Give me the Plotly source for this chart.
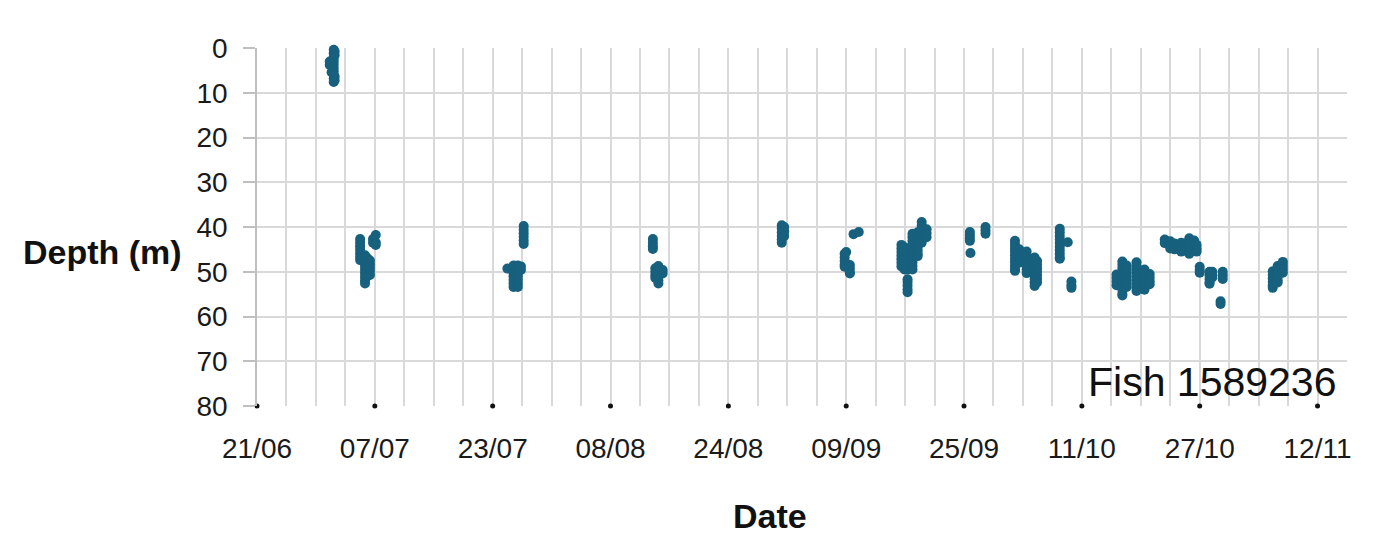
import plotly.graph_objects as go

# ---- data (one column of depth records per timestamp) ----
col_times = [
    "2014-06-30 21:00", "2014-07-01 03:00", "2014-07-01 10:00", "2014-07-01 13:00",
    "2014-07-05 00:00", "2014-07-05 16:00", "2014-07-06 00:00", "2014-07-06 08:00",
    "2014-07-06 18:00", "2014-07-07 03:00",
    "2014-07-25 00:00", "2014-07-25 20:00", "2014-07-26 10:00", "2014-07-26 20:00",
    "2014-07-27 05:00",
    "2014-08-13 18:00", "2014-08-14 02:00", "2014-08-14 12:00", "2014-08-15 02:00",
    "2014-08-31 06:00", "2014-08-31 14:00",
    "2014-09-08 19:00", "2014-09-09 00:00", "2014-09-09 12:00", "2014-09-10 00:00",
    "2014-09-10 17:00",
    "2014-09-16 12:00", "2014-09-16 22:00", "2014-09-17 08:00", "2014-09-18 00:00",
    "2014-09-18 17:00", "2014-09-19 06:00", "2014-09-19 22:00",
    "2014-09-25 19:00", "2014-09-25 21:00", "2014-09-27 22:00",
    "2014-10-01 22:00", "2014-10-02 12:00", "2014-10-03 12:00", "2014-10-04 14:00",
    "2014-10-04 22:00",
    "2014-10-08 00:00", "2014-10-09 02:00", "2014-10-09 14:00",
    "2014-10-15 17:00", "2014-10-16 12:00", "2014-10-17 02:00", "2014-10-18 10:00",
    "2014-10-19 12:00", "2014-10-20 05:00",
    "2014-10-22 06:00", "2014-10-23 00:00", "2014-10-23 14:00", "2014-10-24 12:00",
    "2014-10-25 14:00", "2014-10-26 06:00", "2014-10-26 14:00",
    "2014-10-27 00:00", "2014-10-28 08:00", "2014-10-28 17:00", "2014-10-29 20:00",
    "2014-10-30 03:00",
    "2014-11-05 22:00", "2014-11-06 14:00", "2014-11-07 07:00",
]
col_depths = [
    [3.0, 3.8], [5.4], [0.4, 1.2, 2.0, 2.8, 3.6, 4.4, 5.2, 6.0, 6.8, 7.6], [0.8, 1.6, 6.4, 7.2],
    [42.7, 43.5, 44.3, 45.1, 45.9, 46.7, 47.4], [46.3, 47.1, 47.9, 48.7, 49.5, 50.3, 51.1, 51.9, 52.6],
    [47.0, 47.8, 48.6, 49.4, 50.2, 51.0], [47.5, 48.3, 49.1, 49.9, 50.7],
    [42.7, 43.5], [41.8, 43.5, 44.0],
    [49.3], [48.6, 49.4, 50.2, 51.0, 51.8, 52.6, 53.4], [48.6, 49.4, 50.2, 51.0, 51.8, 52.6, 53.4],
    [48.8, 49.6],
    [39.8, 40.6, 41.4, 42.2, 43.0, 43.8],
    [42.7, 43.5, 44.3, 44.9], [49.2, 50.0, 50.8, 51.4], [48.7, 49.5, 50.3, 51.1, 51.9, 52.6], [49.6, 50.4],
    [39.6, 40.4, 41.2, 42.0, 42.8, 43.5], [40.0, 41.0, 42.0],
    [46.0, 46.8, 47.6, 48.4, 48.9], [45.6], [48.5, 49.3, 50.1, 50.4], [41.6],
    [41.1],
    [44.0, 44.8, 45.6, 46.4, 47.2, 48.0, 48.8], [44.5, 45.5, 46.5, 47.5, 48.5, 49.5],
    [49.5, 51.7, 52.3, 53.1, 53.9, 54.6],
    [41.5, 42.3, 43.1, 43.9, 44.7, 45.5, 46.3, 47.1, 47.9, 48.7, 49.5],
    [41.2, 42.0, 42.8, 43.6, 44.4, 45.2, 46.0, 46.5], [38.9, 39.7, 40.5, 41.3, 42.1, 42.9, 43.5],
    [40.5, 41.4, 42.3],
    [41.1, 41.8, 42.5, 43.1], [45.8], [40.0, 40.8, 41.5],
    [43.1, 43.9, 44.7, 45.5, 46.3, 47.1, 47.9, 48.7, 49.5, 49.8], [45.0, 46.0, 47.0, 48.0],
    [45.5, 46.3, 47.1, 47.9, 48.7, 49.5, 50.3], [46.8, 47.6, 48.4, 49.2, 50.0, 50.8, 51.6, 52.4, 53.2],
    [47.6, 48.4, 49.2, 50.0, 50.8, 51.6, 52.4],
    [40.4, 41.2, 42.0, 42.8, 43.6, 44.4, 45.2, 46.0, 46.8, 47.1], [43.4], [52.2, 53.0, 53.6],
    [50.6, 51.4, 52.2, 53.0], [47.7, 48.5, 49.3, 50.1, 50.9, 51.7, 52.5, 53.3, 54.1, 54.9, 55.3],
    [48.6, 49.4, 50.2, 51.0, 51.8, 52.6, 53.4], [47.9, 48.7, 49.5, 50.3, 51.1, 51.9, 52.7, 53.5, 54.3],
    [49.5, 50.3, 51.1, 51.9, 52.7, 53.5, 54.0], [50.5, 51.3, 52.1, 52.8],
    [42.8, 43.6], [43.2, 44.0, 44.8], [43.7, 44.5, 45.0], [43.5, 44.3, 45.1, 45.5],
    [42.5, 43.3, 44.1, 44.9, 45.7, 46.0], [43.0, 44.0, 45.0], [44.0, 44.8, 45.5],
    [48.9, 49.6, 50.2], [50.0, 50.8, 51.6, 52.4, 52.7], [50.0, 50.8, 51.3], [56.6, 57.2],
    [50.0, 50.8, 51.6],
    [49.9, 50.7, 51.5, 52.3, 53.1, 53.6], [48.7, 49.5, 50.3, 51.1, 51.9, 52.4], [47.8, 48.6, 49.4, 50.2],
]

x_tick_dates = ["2014-06-21", "2014-07-07", "2014-07-23", "2014-08-08", "2014-08-24",
                "2014-09-09", "2014-09-25", "2014-10-11", "2014-10-27", "2014-11-12"]
x_tick_labels = ["21/06", "07/07", "23/07", "08/08", "24/08",
                 "09/09", "25/09", "11/10", "27/10", "12/11"]
x_minor_dates = ["2014-06-25", "2014-06-29", "2014-07-03", "2014-07-11", "2014-07-15",
                 "2014-07-19", "2014-07-27", "2014-07-31", "2014-08-04", "2014-08-12",
                 "2014-08-16", "2014-08-20", "2014-08-28", "2014-09-01", "2014-09-05",
                 "2014-09-13", "2014-09-17", "2014-09-21", "2014-09-29", "2014-10-03",
                 "2014-10-07", "2014-10-15", "2014-10-19", "2014-10-23", "2014-10-31",
                 "2014-11-04", "2014-11-08", "2014-11-16"]
y_ticks = [0, 10, 20, 30, 40, 50, 60, 70, 80]
x_range = ["2014-06-21", "2014-11-16"]
fish_label = "Fish 1589236"

# ---- expand columns into points ----
xs, ys = [], []
for t, ds in zip(col_times, col_depths):
    for d in ds:
        xs.append(t)
        ys.append(d)

FONT = "Liberation Sans, Arial, sans-serif"
W, H = 1374, 546
BODY = 8  # default page margin of the html body
# wanted plot box on screen
PX0, PX1, PY0, PY1 = 257, 1347, 48, 406
L = PX0 - BODY
T = PY0 - BODY
R = BODY + W - PX1
B = H - T - (PY1 - PY0)
pw = PX1 - PX0
ph = PY1 - PY0


def px(sx):
    return (sx - PX0) / pw


def py(sy):
    return (PY1 - sy) / ph


fig = go.Figure()
fig.add_trace(go.Scatter(
    x=xs, y=ys, mode="markers",
    marker=dict(size=10, color="#17607E", line=dict(width=0)),
    cliponaxis=False, showlegend=False, hoverinfo="x+y",
))
fig.add_trace(go.Scatter(
    x=x_tick_dates, y=[y_ticks[-1]] * len(x_tick_dates), mode="markers",
    marker=dict(size=5, color="#111111"), cliponaxis=False,
    showlegend=False, hoverinfo="skip",
))

fig.update_layout(
    width=W, height=H,
    margin=dict(l=L, r=R, t=T, b=B, pad=0, autoexpand=False),
    paper_bgcolor="white", plot_bgcolor="white",
    font=dict(family=FONT, color="#1a1a1a"),
    xaxis=dict(
        type="date", range=x_range, automargin=False,
        tickmode="array", tickvals=x_tick_dates, ticktext=x_tick_labels,
        showgrid=True, gridcolor="#d9d9d9", gridwidth=1.5,
        minor=dict(tickvals=x_minor_dates, showgrid=True, gridcolor="#d9d9d9", gridwidth=1.5),
        ticks="", showline=False, zeroline=False,
        tickfont=dict(size=28, family=FONT, color="#1a1a1a"),
        ticklabelstandoff=23,
    ),
    yaxis=dict(
        range=[80, 0], tickmode="array", tickvals=y_ticks, automargin=False,
        showgrid=True, gridcolor="#d9d9d9", gridwidth=1.5,
        ticks="outside", ticklen=12, tickcolor="#bfbfbf", tickwidth=1.5,
        showline=True, linecolor="#bfbfbf", linewidth=1.5, zeroline=False,
        tickfont=dict(size=28, family=FONT, color="#1a1a1a"),
        ticklabelstandoff=10,
    ),
    annotations=[
        dict(text="<b>Depth (m)</b>", xref="paper", yref="paper",
             x=px(184), y=py(252), xanchor="right", yanchor="middle",
             showarrow=False, font=dict(size=34, family=FONT, color="#111111")),
        dict(text="<b>Date</b>", xref="paper", yref="paper",
             x=px(770), y=py(516), xanchor="center", yanchor="middle",
             showarrow=False, font=dict(size=34, family=FONT, color="#111111")),
        dict(text=fish_label, xref="paper", yref="paper",
             x=px(1337), y=py(406), xanchor="right", yanchor="bottom",
             showarrow=False, borderpad=0,
             font=dict(size=41, family=FONT, color="#111111")),
    ],
)

fig.write_html("out.html")
